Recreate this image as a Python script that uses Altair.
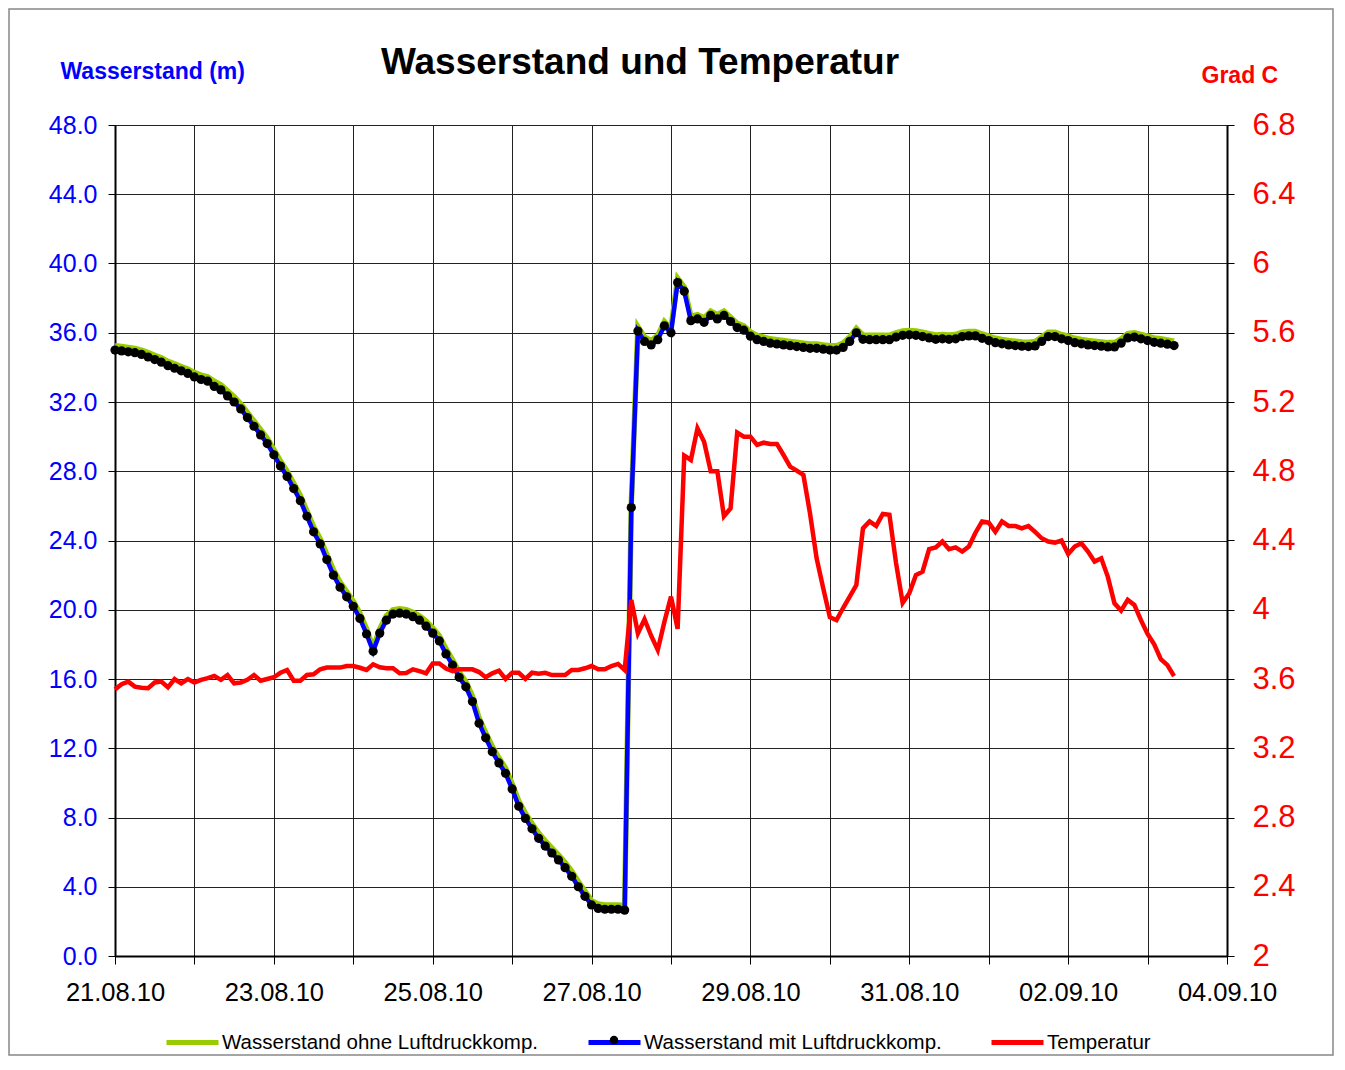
import altair as alt
import pandas as pd

F = "Liberation Sans"
TITEL = "Wasserstand und Temperatur"
N1 = "Wasserstand ohne Luftdruckkomp."
N2 = "Wasserstand mit Luftdruckkomp."
N3 = "Temperatur"

# Messzeitpunkte: alle 2 Stunden ab 21.08.10 00:00
zeit = pd.date_range("2010-08-21 00:00", periods=161, freq="2h").strftime("%Y-%m-%dT%H:%M:%S").tolist()

wasser_mit = [
    35.0, 34.95, 34.9, 34.85, 34.75, 34.6, 34.45, 34.3, 34.1, 33.95, 33.8, 33.65,
    33.45, 33.3, 33.2, 32.9, 32.7, 32.35, 32.0, 31.6, 31.1, 30.6, 30.1, 29.6,
    28.95, 28.3, 27.7, 27.0, 26.3, 25.4, 24.5, 23.8, 22.9, 22.0, 21.3, 20.75,
    20.2, 19.5, 18.6, 17.6, 18.65, 19.4, 19.75, 19.8, 19.75, 19.6, 19.4, 19.05,
    18.65, 18.2, 17.45, 16.8, 16.1, 15.55, 14.7, 13.45, 12.6, 11.8, 11.15, 10.55,
    9.65, 8.65, 7.95, 7.35, 6.8, 6.35, 5.95, 5.55, 5.1, 4.6, 4.0, 3.45,
    2.95, 2.75, 2.7, 2.7, 2.7, 2.65, 25.9, 36.1, 35.5, 35.3, 35.6, 36.4,
    36.0, 38.9, 38.4, 36.7, 36.8, 36.6, 37.0, 36.8, 37.0, 36.65, 36.3, 36.15,
    35.8, 35.6, 35.5, 35.4, 35.35, 35.3, 35.25, 35.2, 35.15, 35.1, 35.1, 35.05,
    35.0, 35.0, 35.15, 35.5, 36.0, 35.62, 35.6, 35.6, 35.6, 35.6, 35.75, 35.85,
    35.88, 35.85, 35.78, 35.7, 35.62, 35.65, 35.62, 35.65, 35.78, 35.82, 35.82, 35.68,
    35.55, 35.43, 35.36, 35.3, 35.26, 35.22, 35.2, 35.24, 35.5, 35.78, 35.78, 35.65,
    35.55, 35.43, 35.36, 35.3, 35.26, 35.22, 35.18, 35.18, 35.4, 35.7, 35.75, 35.65,
    35.55, 35.45, 35.4, 35.34, 35.26,
]

wasser_ohne = [
    35.25, 35.2, 35.15, 35.1, 35.0, 34.85, 34.7, 34.55, 34.35, 34.2, 34.05, 33.9,
    33.7, 33.55, 33.45, 33.2, 33.0, 32.65, 32.3, 31.9, 31.4, 30.9, 30.4, 29.9,
    29.25, 28.6, 28.0, 27.3, 26.6, 25.7, 24.8, 24.1, 23.2, 22.3, 21.6, 21.05,
    20.5, 19.8, 18.9, 17.8, 18.9, 19.65, 20.0, 20.05, 20.0, 19.85, 19.65, 19.35,
    18.95, 18.5, 17.75, 17.1, 16.4, 15.85, 15.0, 13.75, 12.9, 12.1, 11.45, 10.85,
    9.95, 8.95, 8.25, 7.65, 7.1, 6.65, 6.25, 5.85, 5.4, 4.9, 4.3, 3.75,
    3.2, 3.0, 2.95, 2.95, 2.95, 2.9, 26.1, 36.35, 35.75, 35.55, 35.85, 36.65,
    36.25, 39.15, 38.65, 36.95, 37.05, 36.85, 37.25, 37.05, 37.25, 36.9, 36.55, 36.4,
    36.05, 35.85, 35.75, 35.65, 35.6, 35.55, 35.5, 35.45, 35.4, 35.35, 35.35, 35.3,
    35.25, 35.25, 35.4, 35.75, 36.25, 35.87, 35.85, 35.85, 35.85, 35.85, 36.0, 36.1,
    36.13, 36.1, 36.03, 35.95, 35.87, 35.9, 35.87, 35.9, 36.03, 36.07, 36.07, 35.93,
    35.8, 35.68, 35.61, 35.55, 35.51, 35.47, 35.45, 35.49, 35.75, 36.03, 36.03, 35.9,
    35.8, 35.68, 35.61, 35.55, 35.51, 35.47, 35.43, 35.43, 35.65, 35.95, 36.0, 35.9,
    35.8, 35.7, 35.65, 35.59, 35.51,
]

temperatur = [
    3.54, 3.57, 3.585, 3.556, 3.55, 3.547, 3.58, 3.585, 3.552, 3.60, 3.575, 3.60,
    3.58, 3.595, 3.605, 3.618, 3.595, 3.623, 3.575, 3.58, 3.595, 3.623, 3.59, 3.60,
    3.61, 3.636, 3.652, 3.59, 3.59, 3.623, 3.627, 3.656, 3.666, 3.666, 3.666, 3.675,
    3.675, 3.665, 3.652, 3.685, 3.668, 3.662, 3.662, 3.633, 3.635, 3.656, 3.645, 3.633,
    3.69, 3.69, 3.66, 3.645, 3.656, 3.656, 3.656, 3.64, 3.61, 3.633, 3.648, 3.60,
    3.636, 3.636, 3.60, 3.636, 3.63, 3.636, 3.623, 3.623, 3.623, 3.652, 3.652, 3.662,
    3.675, 3.656, 3.656, 3.675, 3.687, 3.652, 4.057, 3.864, 3.945, 3.85, 3.768, 3.93,
    4.076, 3.89, 4.89, 4.865, 5.048, 4.97, 4.80, 4.80, 4.54, 4.586, 5.023, 5.0,
    5.0, 4.952, 4.965, 4.958, 4.958, 4.894, 4.827, 4.804, 4.779, 4.557, 4.297, 4.124,
    3.957, 3.94, 4.01, 4.076, 4.143, 4.47, 4.51, 4.484, 4.553, 4.548, 4.27, 4.04,
    4.095, 4.20, 4.22, 4.35, 4.36, 4.394, 4.35, 4.36, 4.336, 4.365, 4.445, 4.51,
    4.503, 4.45, 4.51, 4.484, 4.484, 4.47, 4.484, 4.45, 4.413, 4.394, 4.388, 4.40,
    4.322, 4.365, 4.384, 4.336, 4.278, 4.297, 4.19, 4.037, 3.995, 4.057, 4.028, 3.94,
    3.86, 3.80, 3.715, 3.68, 3.617,
]

links_ticks = [0, 4, 8, 12, 16, 20, 24, 28, 32, 36, 40, 44, 48]
rechts_ticks = [2, 2.4, 2.8, 3.2, 3.6, 4, 4.4, 4.8, 5.2, 5.6, 6, 6.4, 6.8]
tage = [(2010, 8, d) for d in range(21, 32)] + [(2010, 9, d) for d in range(1, 5)]

df_ohne = pd.DataFrame({"Zeit": zeit, "Wert": wasser_ohne, "Reihe": N1})
df_mit = pd.DataFrame({"Zeit": zeit, "Wert": wasser_mit, "Reihe": N2})
df_pkt = pd.DataFrame({"Zeit": zeit, "Wert": wasser_mit, "Marker": N2})
df_temp = pd.DataFrame({"Zeit": zeit, "Wert": temperatur, "Reihe": N3})

day_values = [alt.DateTime(year=y, month=m, date=d) for (y, m, d) in tage]

x_enc = alt.X(
    "Zeit:T",
    title=None,
    scale=alt.Scale(domain=[alt.DateTime(year=2010, month=8, date=21),
                            alt.DateTime(year=2010, month=9, date=4)], nice=False),
    axis=alt.Axis(
        values=day_values,
        format="%d.%m.%y",
        labelExpr="(round((datum.value - datetime(2010,7,21))/86400000) % 2 == 0) ? datum.label : ''",
        labelOverlap=False,
        labelFont=F, labelFontSize=25.5, labelColor="black", labelPadding=16,
        labelFlush=False,
        tickSize=8, tickColor="black",
        domainColor="black", domainWidth=2,
        grid=True, gridColor="#222222", gridWidth=1,
    ),
)

y_left = alt.Y(
    "Wert:Q",
    scale=alt.Scale(domain=[0, 48], nice=False, zero=False),
    axis=alt.Axis(
        orient="left", values=links_ticks, format=".1f",
        labelFont=F, labelFontSize=25, labelColor="#0000FF", labelPadding=11,
        tickSize=7, tickColor="black",
        domainColor="black", domainWidth=2,
        grid=True, gridColor="#222222", gridWidth=1,
        title="Wasserstand (m)", titleAngle=0, titleX=-55, titleY=-54,
        titleAlign="left", titleBaseline="middle",
        titleFont=F, titleFontSize=23, titleFontWeight="bold", titleColor="#0000FF",
    ),
)

y_right = alt.Y(
    "Wert:Q",
    scale=alt.Scale(domain=[2, 6.8], nice=False, zero=False),
    axis=alt.Axis(
        orient="right", values=rechts_ticks,
        labelExpr="format(datum.value, '.1~f')",
        labelFont=F, labelFontSize=31, labelColor="#FF0000", labelPadding=18,
        tickSize=7, tickColor="black",
        domainColor="black", domainWidth=2,
        grid=False,
        title="Grad C", titleAngle=0, titleX=-26, titleY=-50,
        titleAlign="left", titleBaseline="middle",
        titleFont=F, titleFontSize=23, titleFontWeight="bold", titleColor="#FF0000",
    ),
)

color_enc = alt.Color(
    "Reihe:N",
    scale=alt.Scale(domain=[N1, N2, N3], range=["#99CC00", "#0000FF", "#FF0000"]),
    legend=alt.Legend(
        orient="none", legendX=49, legendY=889, direction="horizontal",
        title=None, symbolType="stroke", symbolSize=2704, symbolStrokeWidth=5,
        labelFont=F, labelFontSize=20.5, labelColor="black", labelOffset=1,
        columnPadding=39, labelLimit=0, padding=0,
    ),
)

green = alt.Chart(df_ohne).mark_line(strokeWidth=5.5).encode(x=x_enc, y=y_left, color=color_enc)
blue = alt.Chart(df_mit).mark_line(strokeWidth=4.5).encode(x=x_enc, y=y_left, color=color_enc)
pts = alt.Chart(df_pkt).mark_point(filled=True, size=85, color="black", opacity=1).encode(
    x=x_enc, y=y_left,
    shape=alt.Shape(
        "Marker:N", scale=alt.Scale(range=["circle"]),
        legend=alt.Legend(
            orient="none", legendX=489, legendY=905, title=None,
            labelExpr="''", symbolSize=70, labelFontSize=20, padding=0,
            symbolFillColor="black", symbolStrokeColor="black",
        ),
    ),
)
water = alt.layer(green, blue, pts)

temp = alt.Chart(df_temp).mark_line(strokeWidth=4.5).encode(x=x_enc, y=y_right, color=color_enc)

# outer frame (decoration, inside the drawable area)
frame = alt.Chart(alt.Data(values=[{"k": 1}])).mark_rect(
    filled=False, color="#888888", strokeWidth=1.5
).encode(
    x=alt.value(-106), x2=alt.value(1218), y=alt.value(-116), y2=alt.value(930)
)

titel = alt.Chart(alt.Data(values=[{"t": TITEL}])).mark_text(
    font=F, fontSize=37, fontWeight="bold", color="black", align="center", baseline="middle"
).encode(text="t:N", x=alt.value(525), y=alt.value(-62))

chart = alt.layer(frame, water, temp, titel).resolve_scale(y="independent").properties(
    width=1112,
    height=831,
    autosize=alt.AutoSizeParams(type="none"),
    padding={"left": 107, "top": 117, "right": 108, "bottom": 100},
).configure_view(stroke="black", strokeWidth=1).configure(background="white")

chart.save("out.html", embed_options={"renderer": "svg", "actions": False})
